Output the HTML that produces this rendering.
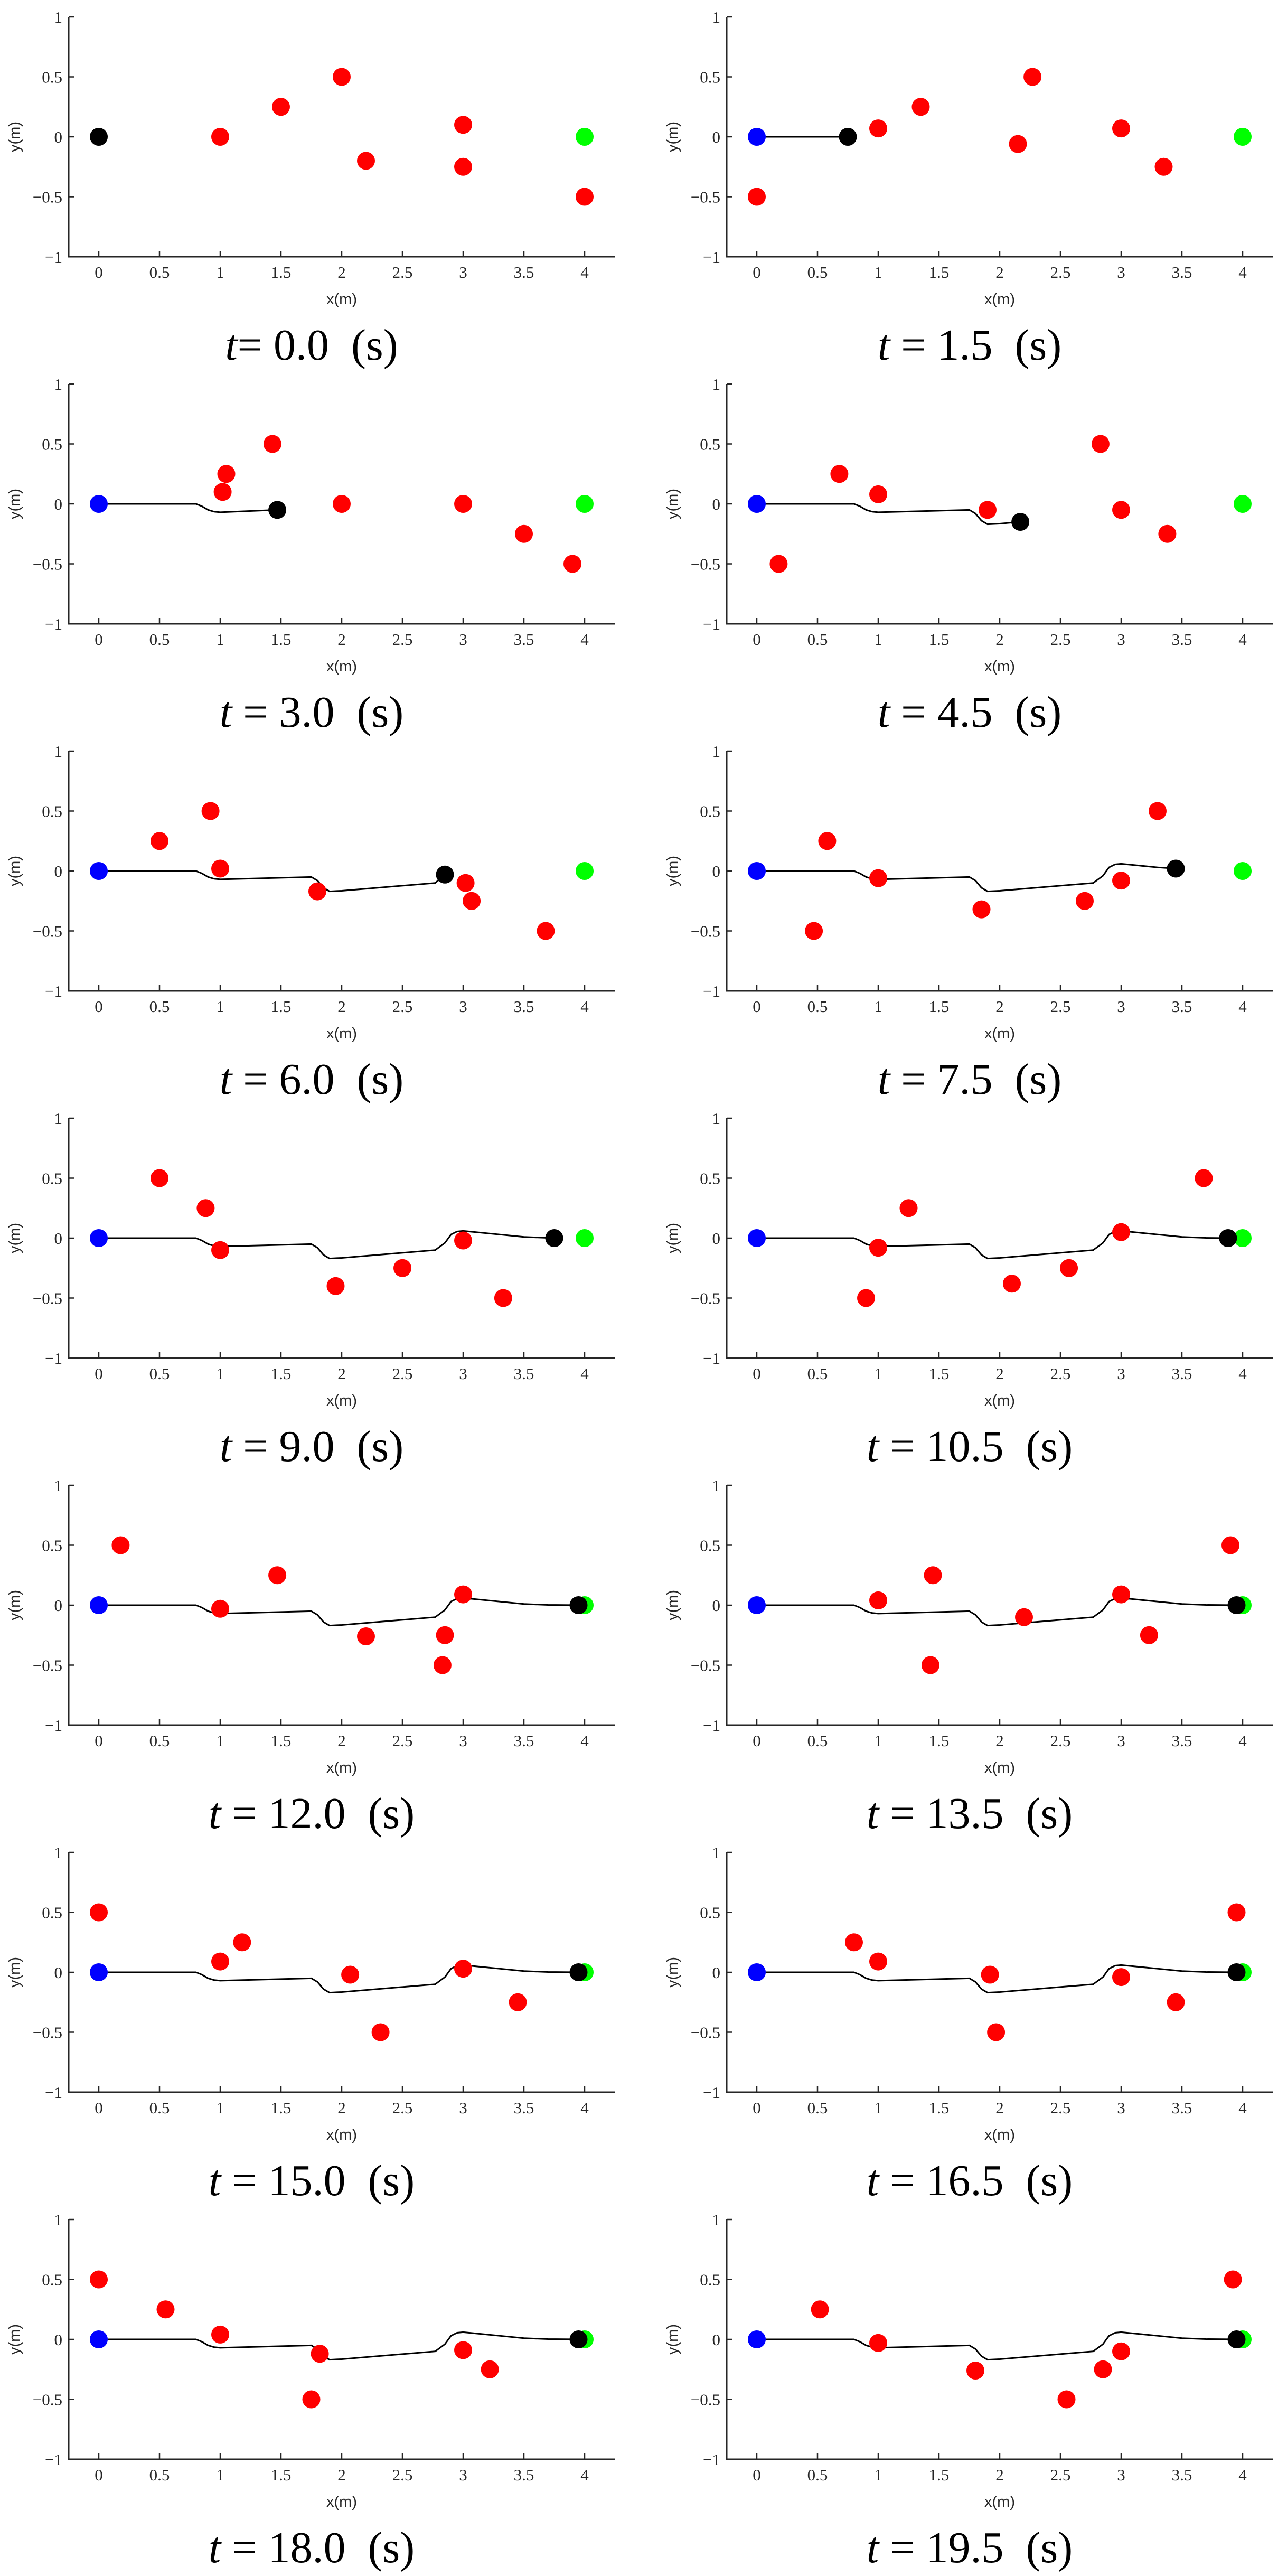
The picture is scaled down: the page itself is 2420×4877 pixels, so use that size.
<!DOCTYPE html>
<html><head><meta charset="utf-8">
<style>
html,body{margin:0;padding:0;background:#fff;}
svg{display:block;}
.tick{font-family:"Liberation Serif",serif;font-size:31px;fill:#262626;}
.lab{font-family:"Liberation Sans",sans-serif;font-size:29px;fill:#262626;}
.ttl{font-family:"Liberation Serif",serif;font-size:84px;fill:#000;}
</style></head>
<body>
<svg id="fig" width="2420" height="4877" viewBox="0 0 2420 4877" xmlns="http://www.w3.org/2000/svg"></svg>
<script>
const times = ["0.0","1.5","3.0","4.5","6.0","7.5","9.0","10.5","12.0","13.5","15.0","16.5","18.0","19.5"];
const robotX = [0,0.75,1.47,2.17,2.85,3.45,3.75,3.88,3.95,3.95,3.95,3.95,3.95,3.95];
const robotY = [0,0,-0.05,-0.15,-0.03,0.02,0,0,0,0,0,0,0,0];
const obsX = [
 [1,1.5,2,2.2,3,3,4],
 [0,1,1.35,2.27,2.15,3,3.35],
 [1.02,1.05,1.43,2,3,3.5,3.9],
 [0.18,0.68,1,1.9,2.83,3,3.38],
 [0.5,0.92,1,1.8,3.02,3.07,3.68],
 [0.47,0.58,1,1.85,2.7,3,3.3],
 [0.5,0.88,1,1.95,2.5,3,3.33],
 [0.9,1,1.25,2.1,2.57,3,3.68],
 [0.18,1,1.47,2.2,2.85,2.83,3],
 [1,1.43,1.45,2.2,3,3.23,3.9],
 [0,1,1.18,2.07,2.32,3,3.45],
 [0.8,1,1.92,1.97,3,3.45,3.95],
 [0,0.55,1,1.75,1.82,3,3.22],
 [0.52,1,1.8,2.55,2.85,3,3.92]
];
const obsY = [
 [0,0.25,0.5,-0.2,0.1,-0.25,-0.5],
 [-0.5,0.07,0.25,0.5,-0.06,0.07,-0.25],
 [0.1,0.25,0.5,0,0,-0.25,-0.5],
 [-0.5,0.25,0.08,-0.05,0.5,-0.05,-0.25],
 [0.25,0.5,0.02,-0.17,-0.1,-0.25,-0.5],
 [-0.5,0.25,-0.06,-0.32,-0.25,-0.08,0.5],
 [0.5,0.25,-0.1,-0.4,-0.25,-0.02,-0.5],
 [-0.5,-0.08,0.25,-0.38,-0.25,0.05,0.5],
 [0.5,-0.03,0.25,-0.26,-0.25,-0.5,0.09],
 [0.04,-0.5,0.25,-0.1,0.09,-0.25,0.5],
 [0.5,0.09,0.25,-0.02,-0.5,0.03,-0.25],
 [0.25,0.09,-0.02,-0.5,-0.04,-0.25,0.5],
 [0.5,0.25,0.04,-0.5,-0.12,-0.09,-0.25],
 [0.25,-0.03,-0.26,-0.5,-0.25,-0.1,0.5]
];
const pathX = [0,0.8,0.85,0.9,0.95,1.0,1.75,1.8,1.85,1.9,2.0,2.77,2.85,2.9,2.95,3.0,3.1,3.3,3.5,3.7,3.95];
const pathY = [0,0,-0.02,-0.05,-0.065,-0.07,-0.05,-0.08,-0.14,-0.17,-0.165,-0.1,-0.04,0.03,0.055,0.06,0.05,0.03,0.01,0.002,0];
const xTicks = [0,0.5,1,1.5,2,2.5,3,3.5,4];
const xTickLabels = ["0","0.5","1","1.5","2","2.5","3","3.5","4"];
const yTicks = [1,0.5,0,-0.5,-1];
const yTickLabels = ["1","0.5","0","\u22120.5","\u22121"];

const NS="http://www.w3.org/2000/svg";
const svg=document.getElementById('fig');
function mk(tag,attrs,parent){const e=document.createElementNS(NS,tag);for(const k in attrs)e.setAttribute(k,attrs[k]);parent.appendChild(e);return e;}

times.forEach((t,i)=>{
  const r=Math.floor(i/2), c=i%2;
  const ox=c*1246, oy=r*695;
  const sx=x=>ox+187+x*230;
  const sy=y=>oy+259-y*227;
  const g=mk('g',{},svg);
  
  
  const axL=ox+130, axR=ox+1165, axT=sy(1), axB=sy(-1);
  const ax=mk('path',{d:`M${axL} ${axT} L${axL} ${axB} L${axR} ${axB}`,fill:'none',stroke:'#262626','stroke-width':3},g);
  
  
  xTicks.forEach((v,k)=>{
    mk('line',{x1:sx(v),x2:sx(v),y1:axB,y2:axB-11,stroke:'#262626','stroke-width':2.5},g);
    const tx=mk('text',{x:sx(v),y:axB+40,'text-anchor':'middle',class:'tick'},g);
    tx.textContent=xTickLabels[k];
    
    
  });
  yTicks.forEach((v,k)=>{
    mk('line',{x1:axL,x2:axL+11,y1:sy(v),y2:sy(v),stroke:'#262626','stroke-width':2.5},g);
    const tx=mk('text',{x:axL-12,y:sy(v)+11,'text-anchor':'end',class:'tick'},g);
    tx.textContent=yTickLabels[k];
    
    
  });
  const xl=mk('text',{x:sx(2),y:oy+576,'text-anchor':'middle',class:'lab'},g);
  xl.textContent='x(m)';
  
  
  const yl=mk('text',{x:0,y:0,'text-anchor':'middle',class:'lab',transform:`translate(${ox+37},${sy(0)}) rotate(-90)`},g);
  yl.textContent='y(m)';
  
  
  // trajectory
  if(i>0){
    let pts=[];
    for(let k=0;k<pathX.length;k++){ if(pathX[k]<robotX[i]) pts.push(sx(pathX[k])+','+sy(pathY[k])); }
    pts.push(sx(robotX[i])+','+sy(robotY[i]));
    const pl=mk('polyline',{points:pts.join(' '),fill:'none',stroke:'#000','stroke-width':3},g);
    
    
    const st=mk('circle',{cx:sx(0),cy:sy(0),r:17,fill:'#0000ff'},g);
    
    
  }
  const gl=mk('circle',{cx:sx(4),cy:sy(0),r:17,fill:'#00ff00'},g);
  
  
  obsX[i].forEach((x,k)=>{
    const o=mk('circle',{cx:sx(x),cy:sy(obsY[i][k]),r:17,fill:'#ff0000'},g);
    
    
  });
  const rb=mk('circle',{cx:sx(robotX[i]),cy:sy(robotY[i]),r:17,fill:'#000'},g);
  
  
  const tt=mk('text',{x:ox+590,y:oy+681,'text-anchor':'middle',class:'ttl'},g);
  
  
  const it=mk('tspan',{'font-style':'italic'},tt); it.textContent='t';
  const rest=mk('tspan',{},tt); rest.textContent=(i===0?'= ':' = ')+t+'\u00a0 (s)';
});
</script>
</body></html>
